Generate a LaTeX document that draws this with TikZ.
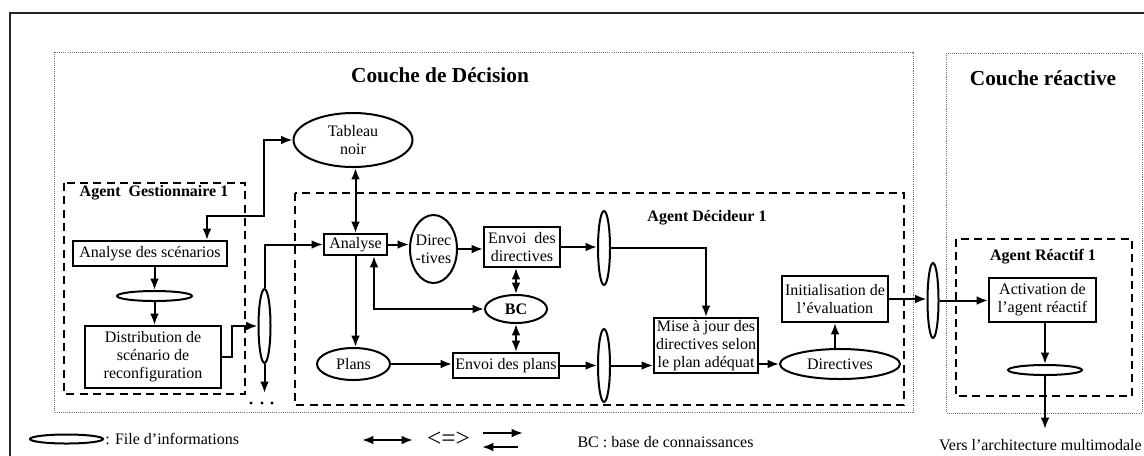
\documentclass[tikz,border=0pt]{standalone}
\usepackage{fontspec}
\setmainfont{Liberation Serif}
\usetikzlibrary{arrows.meta,shapes.geometric,calc}

\begin{document}
\begin{tikzpicture}[x=0.75pt,y=-0.75pt,
  font=\fontsize{12}{13.5}\selectfont,
  sz/.style 2 args={minimum width=#1*0.75pt,minimum height=#2*0.75pt},
  box/.style={draw,line width=1.5pt,rectangle,inner sep=0pt,align=center},
  ell/.style={draw,line width=1.5pt,ellipse,inner sep=0pt},
  tip/.tip={Latex[length=8.5pt,width=6.5pt]},
  conn/.style={line width=1.5pt,-tip},
  biconn/.style={line width=1.5pt,tip-tip},
  agentbox/.style={draw,line width=1.5pt,dash pattern=on 6pt off 4pt},
  layerbox/.style={draw,black!55,line width=0.6pt,dash pattern=on 0.8pt off 0.8pt},
  title/.style={font=\fontsize{16}{18}\selectfont\bfseries},
  agtitle/.style={font=\fontsize{12}{14}\selectfont\bfseries},
]
\useasboundingbox (0,0) rectangle (1144,455);

% outer frame
\draw[line width=1.3pt,black!85] (10,456) -- (10,13) -- (1145,13);

% layers
\draw[layerbox] (54,52) rectangle (913,412);
\draw[layerbox] (946,53) rectangle (1142,413);
\node[title] (tdec) at (440,75) {Couche de Décision};
\node[title] (trea) at (1043,78) {Couche réactive};

% agents
\draw[agentbox] (64,183) rectangle (245,394);
\draw[agentbox] (295,193) rectangle (904,405);
\draw[agentbox] (956,239) rectangle (1132,396);
\node[agtitle,anchor=west] (tges) at (75,193) {Agent\ \ Gestionnaire 1};
\node[agtitle] (tdcd) at (707,218) {Agent Décideur 1};
\node[agtitle] (trct) at (1043,257) {Agent Réactif 1};

% blackboard
\node[ell,sz={119}{54},label={[align=center]center:Tableau\\noir}] (tn) at (353,140) {};

% manager agent
\node[box,sz={154}{25}] (ads) at (150,253.5) {Analyse des scénarios};
\node[ell,sz={75}{10}] (q1) at (154.5,296) {};
\node[box,sz={136}{62}] (dist) at (153,357) {Distribution de\\scénario de\\reconfiguration};
\node[ell,sz={12}{74}] (q2) at (264.5,326) {};

% decision agent
\node[box,sz={63}{21}] (an) at (355.5,244.5) {Analyse};
\node[ell,sz={47}{68},label={[align=center]center:Direc\\-tives}] (dir) at (433.5,249) {};
\node[box,sz={76}{40}] (ed) at (522,247) {Envoi\ \ des\\directives};
\node[ell,sz={12}{74}] (q3) at (604,248) {};
\node[ell,sz={62}{28},label={center:\textbf{BC}}] (bc) at (516,309) {};
\node[ell,sz={73}{32},label={center:Plans}] (pl) at (353.5,364) {};
\node[box,sz={106}{25}] (ep) at (506,365.5) {Envoi des plans};
\node[ell,sz={12}{73}] (q4) at (604,365.5) {};
\node[box,sz={104}{55}] (maj) at (706,345.5) {Mise à jour des\\directives selon\\le plan adéquat};
\node[ell,sz={120}{30},label={center:Directives}] (dv) at (840,364) {};
\node[box,sz={106}{46}] (init) at (835,299) {Initialisation de\\l’évaluation};
\node[ell,sz={11}{75}] (q5) at (933,300.5) {};

% reactive agent
\node[box,sz={107}{44}] (act) at (1042.5,300) {Activation de\\l’agent réactif};
\node[ell,sz={74}{10}] (q6) at (1045,370) {};
\coordinate (out) at (1045,429);
\node[anchor=east,inner sep=0pt] (vers) at (1142,445) {Vers l’architecture multimodale};

% connectors: manager agent
\draw[biconn] ($(ads.north)+(57,0)$) |- (264,216) |- (tn.west);
\draw[conn] (ads.south -| q1.north) -- (q1.north);
\draw[conn] (q1.south) -- (q1.south |- dist.north);
\draw[conn] (dist.east) -- ++(10,0) |- (q2.west);
\draw[conn] (q2.north) |- (an.west);
\coordinate (down) at (264.5,393);
\draw[conn] (q2.south) -- (down);
\foreach \dx in {251,262,272} \fill (\dx,403) circle[radius=1.2pt];

% connectors: decision agent
\draw[biconn] (an.north |- tn.south) -- (an.north);
\draw[conn] (an.east) -- (an.east -| dir.west);
\draw[conn] (dir.east) -- (dir.east -| ed.west);
\draw[conn] (ed.east) -- (ed.east -| q3.west);
\draw[conn] (q3.east) -| (maj.north);
\draw[biconn] (bc.north |- ed.south) -- (bc.north);
\draw[biconn] (bc.south) -- (bc.south |- ep.north);
\draw[biconn] ($(an.south)+(18.5,0)$) |- (bc.west);
\draw[conn] (an.south) -- (an.south |- pl.north);
\draw[conn] (pl.east) -- (pl.east -| ep.west);
\draw[conn] (ep.east) -- (ep.east -| q4.west);
\draw[conn] (q4.east) -- (q4.east -| maj.west);
\draw[conn] (maj.east |- dv.west) -- (dv.west);
\draw[conn] (dv.north -| init.south) -- (init.south);
\draw[conn] (init.east) -- (init.east -| q5.west);

% connectors: reactive agent
\draw[conn] (q5.east) -- (q5.east -| act.west);
\draw[conn] (act.south -| q6.north) -- (q6.north);
\draw[conn] (q6.south) -- (out);

% legend
\node[ell,sz={73}{9}] (lq) at (66.5,439) {};
\node[anchor=west,inner sep=0pt] (lqt) at (105,439) {: File d’informations};
\coordinate (la1) at (362,440);
\coordinate (la2) at (413,440);
\draw[biconn] (la1) -- (la2);
\node[font=\fontsize{19}{20}\selectfont] (leq) at (448.5,439) {<=>};
\coordinate (lb1) at (483,433);
\coordinate (lb2) at (523,433);
\coordinate (lc1) at (518,447);
\coordinate (lc2) at (482,447);
\draw[conn] (lb1) -- (lb2);
\draw[conn] (lc1) -- (lc2);
\node (lbc) at (665.5,442) {BC : base de connaissances};
\end{tikzpicture}
\end{document}
